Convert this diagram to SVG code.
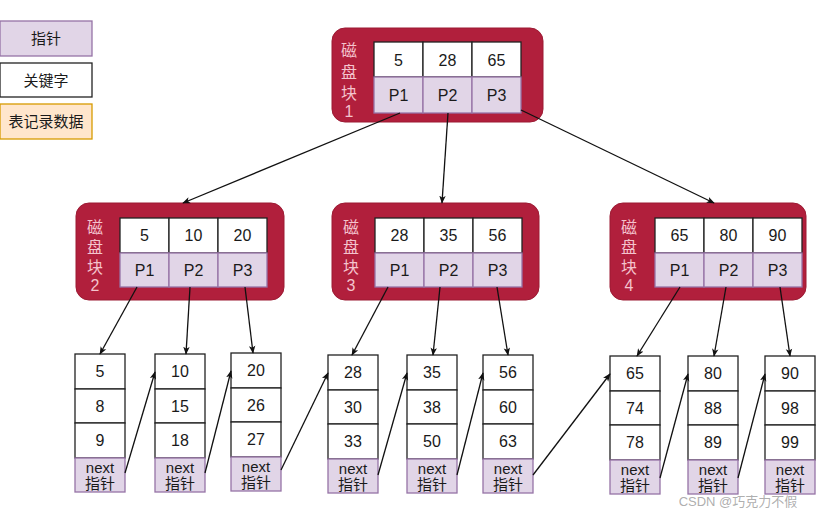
<svg xmlns="http://www.w3.org/2000/svg" width="837" height="509" viewBox="0 0 837 509">
<defs>
<marker id="ah" viewBox="0 0 10 10" refX="9" refY="5" markerWidth="8" markerHeight="8" markerUnits="userSpaceOnUse" orient="auto">
<path d="M0,1 L10,5 L0,9 L2.5,5 Z" fill="#111"/>
</marker>
<style>
text{font-family:"Liberation Sans","Noto Sans CJK SC",sans-serif;text-anchor:middle;dominant-baseline:central;fill:#1a1a1a}
.blk{fill:#b11f3c;stroke:#9c1a33;stroke-width:1}
.lbl{fill:#f4c3cd;font-size:16px}
.key{fill:#ffffff;stroke:#222;stroke-width:1.3}
.ptr{fill:#e1d5e7;stroke:#9673a6;stroke-width:1.3}
.rec{fill:#ffe6cc;stroke:#d79b00;stroke-width:1.3}
.t{font-size:16px}
.s{font-size:15px}
.edge{stroke:#111;stroke-width:1.3;fill:none;marker-end:url(#ah)}
</style>
</defs>
<rect width="837" height="509" fill="#ffffff"/>
<g id="legend">
<rect class="ptr" x="0" y="21" width="92" height="35"/><text class="s" x="46" y="38.5">指针</text>
<rect class="key" x="0" y="63" width="92" height="34"/><text class="s" x="46" y="80">关键字</text>
<rect class="rec" x="0" y="104" width="92" height="35"/><text class="s" x="46" y="121.5">表记录数据</text>
</g>
<g id="block1">
<rect class="blk" x="332" y="28" width="211" height="94" rx="13"/>
<text class="lbl" x="349" y="50">磁</text><text class="lbl" x="349" y="72">盘</text><text class="lbl" x="349" y="93">块</text><text class="lbl" x="349" y="111">1</text>
<rect class="key" x="374" y="42" width="49" height="35"/><rect class="key" x="423" y="42" width="49" height="35"/><rect class="key" x="472" y="42" width="49" height="35"/>
<rect class="ptr" x="374" y="77" width="49" height="36"/><rect class="ptr" x="423" y="77" width="49" height="36"/><rect class="ptr" x="472" y="77" width="49" height="36"/>
<text class="t" x="398.5" y="60">5</text><text class="t" x="447.5" y="60">28</text><text class="t" x="496.5" y="60">65</text>
<text class="t" x="398.5" y="95">P1</text><text class="t" x="447.5" y="95">P2</text><text class="t" x="496.5" y="95">P3</text>
</g>
<g id="block2">
<rect class="blk" x="76" y="203" width="208" height="97" rx="13"/>
<text class="lbl" x="95" y="227">磁</text><text class="lbl" x="95" y="247">盘</text><text class="lbl" x="95" y="267">块</text><text class="lbl" x="95" y="285">2</text>
<rect class="key" x="120" y="218" width="49" height="35"/><rect class="key" x="169" y="218" width="49" height="35"/><rect class="key" x="218" y="218" width="49" height="35"/>
<rect class="ptr" x="120" y="253" width="49" height="34"/><rect class="ptr" x="169" y="253" width="49" height="34"/><rect class="ptr" x="218" y="253" width="49" height="34"/>
<text class="t" x="144.5" y="235.5">5</text><text class="t" x="193.5" y="235.5">10</text><text class="t" x="242.5" y="235.5">20</text>
<text class="t" x="144.5" y="270">P1</text><text class="t" x="193.5" y="270">P2</text><text class="t" x="242.5" y="270">P3</text>
</g>
<g id="block3">
<rect class="blk" x="332" y="203" width="207" height="97" rx="13"/>
<text class="lbl" x="351" y="227">磁</text><text class="lbl" x="351" y="247">盘</text><text class="lbl" x="351" y="267">块</text><text class="lbl" x="351" y="285">3</text>
<rect class="key" x="375" y="218" width="49" height="35"/><rect class="key" x="424" y="218" width="49" height="35"/><rect class="key" x="473" y="218" width="49" height="35"/>
<rect class="ptr" x="375" y="253" width="49" height="34"/><rect class="ptr" x="424" y="253" width="49" height="34"/><rect class="ptr" x="473" y="253" width="49" height="34"/>
<text class="t" x="399.5" y="235.5">28</text><text class="t" x="448.5" y="235.5">35</text><text class="t" x="497.5" y="235.5">56</text>
<text class="t" x="399.5" y="270">P1</text><text class="t" x="448.5" y="270">P2</text><text class="t" x="497.5" y="270">P3</text>
</g>
<g id="block4">
<rect class="blk" x="610" y="203" width="196" height="97" rx="13"/>
<text class="lbl" x="629" y="227">磁</text><text class="lbl" x="629" y="247">盘</text><text class="lbl" x="629" y="267">块</text><text class="lbl" x="629" y="285">4</text>
<rect class="key" x="655" y="218" width="49" height="35"/><rect class="key" x="704" y="218" width="49" height="35"/><rect class="key" x="753" y="218" width="49" height="35"/>
<rect class="ptr" x="655" y="253" width="49" height="34"/><rect class="ptr" x="704" y="253" width="49" height="34"/><rect class="ptr" x="753" y="253" width="49" height="34"/>
<text class="t" x="679.5" y="235.5">65</text><text class="t" x="728.5" y="235.5">80</text><text class="t" x="777.5" y="235.5">90</text>
<text class="t" x="679.5" y="270">P1</text><text class="t" x="728.5" y="270">P2</text><text class="t" x="777.5" y="270">P3</text>
</g>
<g id="leaf1" transform="translate(75,354)">
<rect class="key" x="0" y="0" width="50" height="35"/><rect class="key" x="0" y="35" width="50" height="34"/><rect class="key" x="0" y="69" width="50" height="35"/><rect class="ptr" x="0" y="104" width="50" height="34"/>
<text class="t" x="25" y="17.5">5</text><text class="t" x="25" y="52">8</text><text class="t" x="25" y="86.5">9</text><text class="s" x="25" y="113">next</text><text class="s" x="25" y="129">指针</text>
</g>
<g id="leaf2" transform="translate(155,354)">
<rect class="key" x="0" y="0" width="50" height="35"/><rect class="key" x="0" y="35" width="50" height="34"/><rect class="key" x="0" y="69" width="50" height="35"/><rect class="ptr" x="0" y="104" width="50" height="34"/>
<text class="t" x="25" y="17.5">10</text><text class="t" x="25" y="52">15</text><text class="t" x="25" y="86.5">18</text><text class="s" x="25" y="113">next</text><text class="s" x="25" y="129">指针</text>
</g>
<g id="leaf3" transform="translate(231,353)">
<rect class="key" x="0" y="0" width="50" height="35"/><rect class="key" x="0" y="35" width="50" height="34"/><rect class="key" x="0" y="69" width="50" height="35"/><rect class="ptr" x="0" y="104" width="50" height="34"/>
<text class="t" x="25" y="17.5">20</text><text class="t" x="25" y="52">26</text><text class="t" x="25" y="86.5">27</text><text class="s" x="25" y="113">next</text><text class="s" x="25" y="129">指针</text>
</g>
<g id="leaf4" transform="translate(328,355)">
<rect class="key" x="0" y="0" width="50" height="35"/><rect class="key" x="0" y="35" width="50" height="34"/><rect class="key" x="0" y="69" width="50" height="35"/><rect class="ptr" x="0" y="104" width="50" height="34"/>
<text class="t" x="25" y="17.5">28</text><text class="t" x="25" y="52">30</text><text class="t" x="25" y="86.5">33</text><text class="s" x="25" y="113">next</text><text class="s" x="25" y="129">指针</text>
</g>
<g id="leaf5" transform="translate(407,355)">
<rect class="key" x="0" y="0" width="50" height="35"/><rect class="key" x="0" y="35" width="50" height="34"/><rect class="key" x="0" y="69" width="50" height="35"/><rect class="ptr" x="0" y="104" width="50" height="34"/>
<text class="t" x="25" y="17.5">35</text><text class="t" x="25" y="52">38</text><text class="t" x="25" y="86.5">50</text><text class="s" x="25" y="113">next</text><text class="s" x="25" y="129">指针</text>
</g>
<g id="leaf6" transform="translate(483,355)">
<rect class="key" x="0" y="0" width="50" height="35"/><rect class="key" x="0" y="35" width="50" height="34"/><rect class="key" x="0" y="69" width="50" height="35"/><rect class="ptr" x="0" y="104" width="50" height="34"/>
<text class="t" x="25" y="17.5">56</text><text class="t" x="25" y="52">60</text><text class="t" x="25" y="86.5">63</text><text class="s" x="25" y="113">next</text><text class="s" x="25" y="129">指针</text>
</g>
<g id="leaf7" transform="translate(610,356)">
<rect class="key" x="0" y="0" width="50" height="35"/><rect class="key" x="0" y="35" width="50" height="34"/><rect class="key" x="0" y="69" width="50" height="35"/><rect class="ptr" x="0" y="104" width="50" height="34"/>
<text class="t" x="25" y="17.5">65</text><text class="t" x="25" y="52">74</text><text class="t" x="25" y="86.5">78</text><text class="s" x="25" y="113">next</text><text class="s" x="25" y="129">指针</text>
</g>
<g id="leaf8" transform="translate(688,356)">
<rect class="key" x="0" y="0" width="50" height="35"/><rect class="key" x="0" y="35" width="50" height="34"/><rect class="key" x="0" y="69" width="50" height="35"/><rect class="ptr" x="0" y="104" width="50" height="34"/>
<text class="t" x="25" y="17.5">80</text><text class="t" x="25" y="52">88</text><text class="t" x="25" y="86.5">89</text><text class="s" x="25" y="113">next</text><text class="s" x="25" y="129">指针</text>
</g>
<g id="leaf9" transform="translate(765,356)">
<rect class="key" x="0" y="0" width="50" height="35"/><rect class="key" x="0" y="35" width="50" height="34"/><rect class="key" x="0" y="69" width="50" height="35"/><rect class="ptr" x="0" y="104" width="50" height="34"/>
<text class="t" x="25" y="17.5">90</text><text class="t" x="25" y="52">98</text><text class="t" x="25" y="86.5">99</text><text class="s" x="25" y="113">next</text><text class="s" x="25" y="129">指针</text>
</g>
<g id="connectors">
<line class="edge" x1="400" y1="113" x2="183" y2="203"/>
<line class="edge" x1="448" y1="113" x2="442" y2="203"/>
<line class="edge" x1="521" y1="110" x2="714" y2="203"/>
<line class="edge" x1="137" y1="287" x2="100" y2="354"/>
<line class="edge" x1="190" y1="287" x2="186" y2="354"/>
<line class="edge" x1="245" y1="287" x2="253" y2="353"/>
<line class="edge" x1="388" y1="287" x2="352" y2="355"/>
<line class="edge" x1="440" y1="287" x2="433" y2="355"/>
<line class="edge" x1="497" y1="287" x2="508" y2="355"/>
<line class="edge" x1="680" y1="287" x2="637" y2="356"/>
<line class="edge" x1="726" y1="287" x2="714" y2="356"/>
<line class="edge" x1="780" y1="287" x2="790" y2="356"/>
<line class="edge" x1="125" y1="473" x2="155" y2="372"/>
<line class="edge" x1="205" y1="473" x2="231" y2="371"/>
<line class="edge" x1="281" y1="470" x2="328" y2="373"/>
<line class="edge" x1="378" y1="475" x2="407" y2="373"/>
<line class="edge" x1="457" y1="475" x2="483" y2="373"/>
<line class="edge" x1="533" y1="475" x2="610" y2="374"/>
<line class="edge" x1="660" y1="478" x2="688" y2="374"/>
<line class="edge" x1="738" y1="478" x2="765" y2="374"/>
</g>
<text x="738" y="501.5" style="font-size:13px;fill:#999;fill-opacity:0.8">CSDN @巧克力不假</text>
</svg>
